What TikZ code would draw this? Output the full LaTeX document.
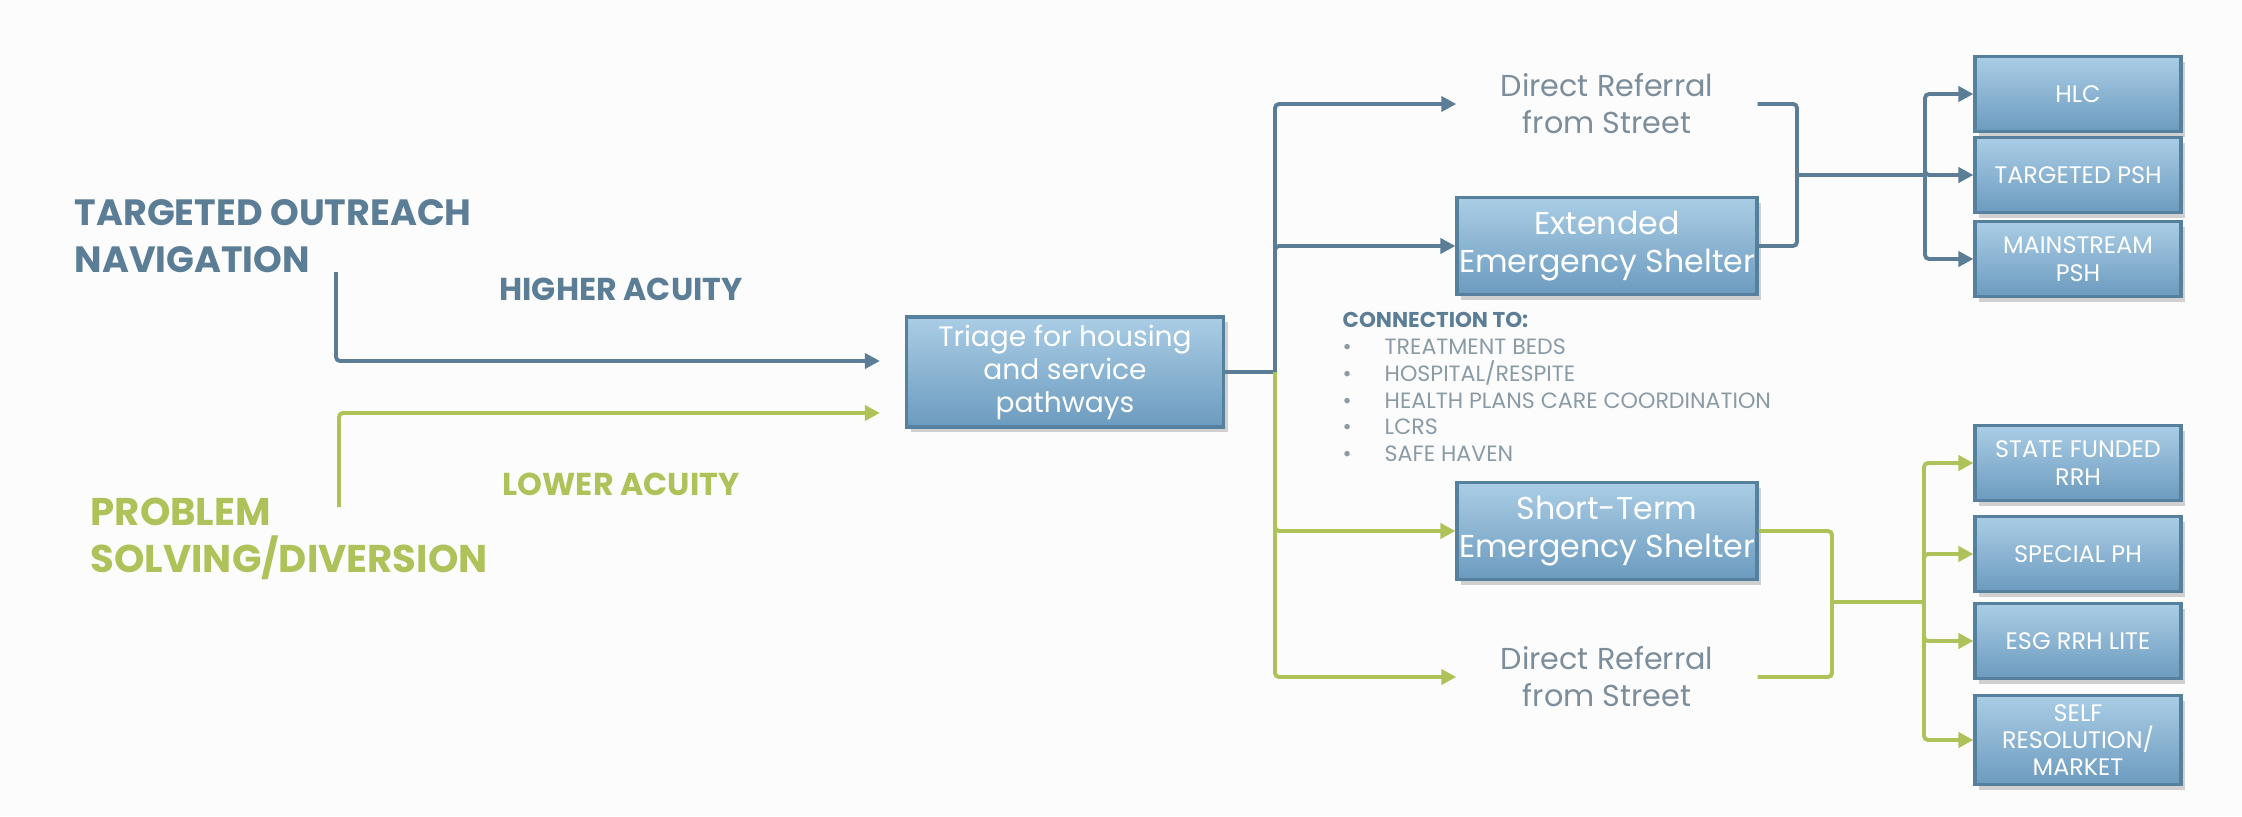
\documentclass[tikz,border=0pt]{standalone}
\usepackage{fontspec}
\setmainfont{Poppins}
\usetikzlibrary{arrows.meta,shadows}

\definecolor{paper}{HTML}{FCFCFC}
\definecolor{steel}{HTML}{5B7E96}
\definecolor{leaf}{HTML}{AEC25A}
\definecolor{boxtop}{HTML}{AACDE5}
\definecolor{boxbot}{HTML}{6C9BBF}
\definecolor{boxrim}{HTML}{55809E}
\definecolor{refgray}{HTML}{7C8E9B}
\definecolor{listgray}{HTML}{8A9BA6}

\tikzset{
  box/.style={draw=boxrim, line width=0.9pt, top color=boxtop, bottom color=boxbot,
    text=white, align=center, inner sep=0pt, minimum width=30mm, minimum height=9.7mm,
    font=\fontsize{9}{10.8}\selectfont,
    drop shadow={shadow xshift=0.4mm, shadow yshift=-0.5mm, opacity=0.35}},
  smallbox/.style={box, minimum width=20.6mm, minimum height=7.5mm,
    font=\fontsize{6.8}{7.8}\selectfont},
  head/.style={align=left, inner sep=0pt, font=\bfseries\fontsize{10.4}{13.4}\selectfont},
  acuity/.style={inner sep=0pt, font=\bfseries\fontsize{9}{10}\selectfont},
  referral/.style={text=refgray, align=center, inner sep=0pt, minimum width=30mm,
    font=\fontsize{8.6}{10.5}\selectfont},
  steelline/.style={draw=steel, line width=1.1pt, rounded corners=0.4mm},
  leafline/.style={draw=leaf, line width=1.1pt, rounded corners=0.4mm},
  steelarrow/.style={steelline, -{Triangle[length=1.5mm, width=1.5mm]}},
  leafarrow/.style={leafline, -{Triangle[length=1.5mm, width=1.5mm]}}
}

\begin{document}
\begin{tikzpicture}[x=0.1mm,y=-0.1mm]
\fill[paper] (0,0) rectangle (2242,816);
\useasboundingbox (0,0) rectangle (2242,816);

% entry points
\node[head, text=steel, anchor=west] (outreach) at (74,236) {TARGETED OUTREACH\\NAVIGATION};
\node[head, text=leaf, anchor=west, font=\bfseries\fontsize{11}{13.4}\selectfont]
  (diversion) at (90,539) {PROBLEM\\SOLVING/DIVERSION};
\node[acuity, text=steel] (higher) at (621,289) {HIGHER ACUITY};
\node[acuity, text=leaf] (lower) at (621,484) {LOWER ACUITY};
\coordinate (hstart) at (336,272);
\coordinate (lstart) at (339,507);

\node[box, minimum width=31.7mm, minimum height=11mm, font=\fontsize{8}{9.4}\selectfont]
  (triage) at (1065,372) {Triage for housing\\and service\\pathways};

\draw[steelarrow] (hstart) |- ([xshift=-2.5mm, yshift=1.1mm]triage.west);
\draw[leafarrow] (lstart) |- ([xshift=-2.5mm, yshift=-4.1mm]triage.west);

% middle column
\coordinate (split) at (1275,372);
\node[referral] (dr1) at (1607,104) {Direct Referral\\from Street};
\node[box] (ext) at (1607,246) {Extended\\Emergency Shelter};
\node[box] (st) at (1607,531) {Short-Term\\Emergency Shelter};
\node[referral] (dr2) at (1607,677) {Direct Referral\\from Street};

\draw[steelline] (triage.east) -- (split);
\draw[steelarrow] (split) |- (dr1.west);
\draw[steelarrow] (split) |- (ext.west);
\draw[leafarrow] (split) |- (st.west);
\draw[leafarrow] (split) |- (dr2.west);

\node[anchor=north west, align=left, inner sep=0pt, text=listgray,
  font=\fontsize{6.3}{7.6}\selectfont] (links) at (1342,312)
  {{\bfseries\color{steel}\fontsize{6.1}{7.6}\selectfont CONNECTION TO:}\\
   \makebox[4.2mm][l]{\textbullet}TREATMENT BEDS\\
   \makebox[4.2mm][l]{\textbullet}HOSPITAL/RESPITE\\
   \makebox[4.2mm][l]{\textbullet}HEALTH PLANS CARE COORDINATION\\
   \makebox[4.2mm][l]{\textbullet}LCRS\\
   \makebox[4.2mm][l]{\textbullet}SAFE HAVEN};

% housing outcomes
\node[smallbox] (hlc) at (2078,94) {HLC};
\node[smallbox] (tpsh) at (2078,175) {TARGETED PSH};
\node[smallbox] (mpsh) at (2078,259) {MAINSTREAM\\PSH};
\node[smallbox] (sfrrh) at (2078,463) {STATE FUNDED\\RRH};
\node[smallbox] (sph) at (2078,554) {SPECIAL PH};
\node[smallbox] (esg) at (2078,641) {ESG RRH LITE};
\node[smallbox, minimum height=8.9mm] (self) at (2078,740) {SELF\\RESOLUTION/\\MARKET};

\coordinate (join1) at (1797,175);
\coordinate (fan1) at (1925,175);
\draw[steelline] (dr1.east) -| (join1) |- (ext.east);
\draw[steelline] (join1) -- (fan1);
\foreach \t in {hlc,tpsh,mpsh}
  \draw[steelarrow] (fan1) |- (\t.west);

\coordinate (join2) at (1832,602);
\coordinate (fan2) at (1924,602);
\draw[leafline] (st.east) -| (join2) |- (dr2.east);
\draw[leafline] (join2) -- (fan2);
\foreach \t in {sfrrh,sph,esg,self}
  \draw[leafarrow] (fan2) |- (\t.west);
\end{tikzpicture}
\end{document}
